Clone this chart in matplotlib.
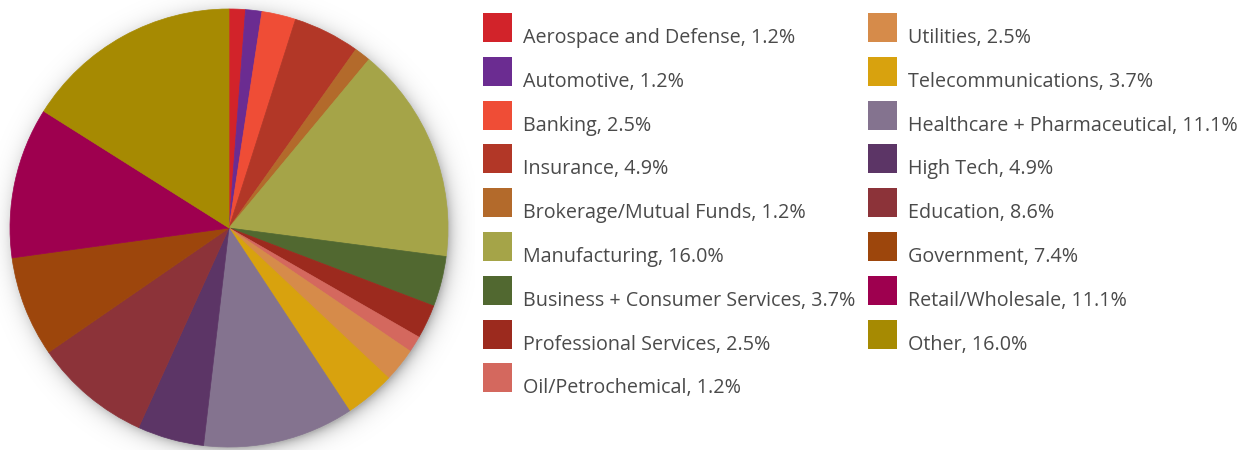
import numpy as np
import matplotlib

matplotlib.use("Agg")
import matplotlib.pyplot as plt
from matplotlib.patches import Rectangle

sectors = [
    "Aerospace and Defense", "Automotive", "Banking", "Insurance",
    "Brokerage/Mutual Funds", "Manufacturing", "Business + Consumer Services",
    "Professional Services", "Oil/Petrochemical", "Utilities",
    "Telecommunications", "Healthcare + Pharmaceutical", "High Tech",
    "Education", "Government", "Retail/Wholesale", "Other",
]
shares = [1.2, 1.2, 2.5, 4.9, 1.2, 16.0, 3.7, 2.5, 1.2, 2.5, 3.7, 11.1, 4.9,
          8.6, 7.4, 11.1, 16.0]
colors = [
    "#d2232a", "#6b2c91", "#ef4d36", "#b23727", "#b36a2b", "#a5a448",
    "#516830", "#9c2a1e", "#d4685e", "#d68b4a", "#d8a20e", "#84738f",
    "#5c3566", "#8c3339", "#9d460c", "#9e004f", "#a68a02",
]

W, H = 1251, 450
fig = plt.figure(figsize=(W / 100, H / 100), dpi=100)

# pie axes placed in pixels: centre (229, 228), radius 219
cx, cy, r = 229, 228, 219
pad = 1.12
ax = fig.add_axes([(cx - r * pad) / W, (H - cy - r * pad) / H,
                   2 * r * pad / W, 2 * r * pad / H])
ax.set_aspect("equal")
ax.axis("off")

# soft drop shadow behind the pie
n = 600
g = np.linspace(-pad, pad, n)
xx, yy = np.meshgrid(g, g)
dist = np.hypot(xx - 0.012, yy + 0.02)
alpha = 0.3 * np.exp(-np.clip(dist - 0.985, 0, None) / 0.035)
shadow = np.zeros((n, n, 4))
shadow[..., 3] = alpha
ax.imshow(shadow, extent=(-pad, pad, -pad, pad), origin="lower", zorder=0,
          interpolation="bilinear")

wedges, _ = ax.pie(shares, colors=colors, startangle=90, counterclock=False,
                   radius=1, wedgeprops={"linewidth": 0, "zorder": 1})
for w in wedges:
    w.set_edgecolor(w.get_facecolor())
    w.set_linewidth(0.5)
ax.set_xlim(-pad, pad)
ax.set_ylim(-pad, pad)

# legend, two columns drawn by hand
col_x = [483, 868]
row_top = 13
row_step = 43.8
box = 29
for i, (name, val, col) in enumerate(zip(sectors, shares, colors)):
    c = 0 if i < 9 else 1
    row = i if i < 9 else i - 9
    x0 = col_x[c]
    y0 = row_top + row * row_step
    fig.add_artist(Rectangle((x0 / W, 1 - (y0 + box) / H), box / W, box / H,
                             transform=fig.transFigure, facecolor=col,
                             edgecolor="none"))
    fig.text((x0 + 40) / W, 1 - (y0 + 30) / H, f"{name}, {val:.1f}%",
             fontsize=14.2, family="Open Sans", color="#4a4a4a",
             va="baseline", ha="left")

fig.savefig("out.png", dpi=100, facecolor="white")
